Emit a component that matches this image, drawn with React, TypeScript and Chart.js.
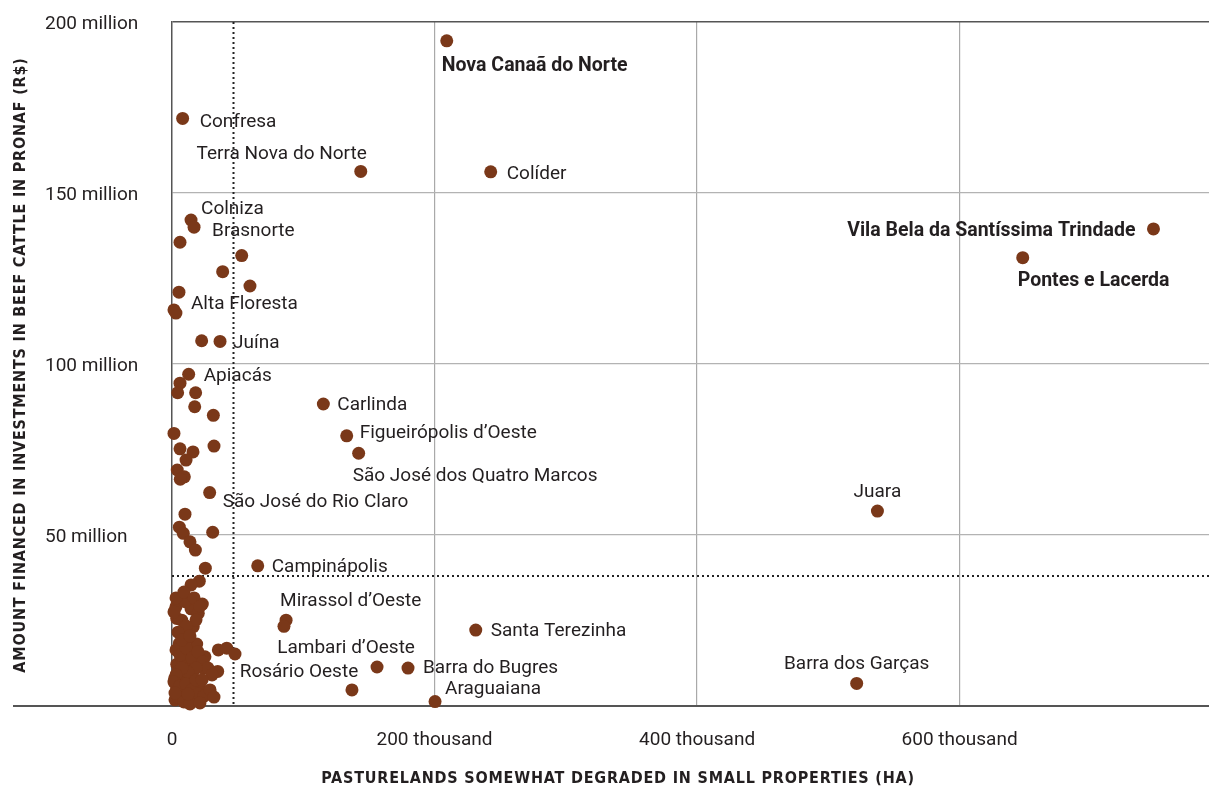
import React, { useEffect, useRef } from "react";
import { Chart, registerables } from "chart.js";

Chart.register(...registerables);

// ---- Data ----
const labeledNames: string[] = [
  "Nova Canaã do Norte", "Confresa", "Terra Nova do Norte", "Colíder", "Colniza", "Brasnorte",
  "Vila Bela da Santíssima Trindade", "Pontes e Lacerda", "Alta Floresta", "Juína", "Apiacás",
  "Carlinda", "Figueirópolis d’Oeste", "São José dos Quatro Marcos", "São José do Rio Claro",
  "Campinápolis", "Mirassol d’Oeste", "Santa Terezinha", "Lambari d’Oeste", "Rosário Oeste",
  "Barra do Bugres", "Araguaiana", "Juara", "Barra dos Garças",
];

const pastureHa: number[] = [
  209300, 8100, 143800, 242800, 14500, 16800,
  747700, 648100, 5300, 36600, 12700,
  115300, 133100, 142200, 28700,
  65300, 86900, 231400, 156200, 34800,
  179800, 200400, 537400, 521600,
  // unlabeled municipalities
  85300, 137100, 6100, 53100, 38600, 59400, 1500, 3000, 22600,
  6100, 4300, 18000, 17300, 31500, 1500, 6100, 16000, 32000, 10700, 4000, 9400, 6300,
  9900, 5600, 8600, 31000, 13700, 17800, 25400, 20800, 14500, 8600, 3000, 23100, 14500,
  20000, 7400, 16200, 3600, 6100, 5600, 18800, 35300, 41700, 48000, 12400, 25100, 3600,
  21300, 11200, 6100, 15000, 21300, 28400, 3600, 2300, 9900, 16200, 7400,
  10000, 12000, 7000, 4500, 2000, 11500, 13500, 19000, 8000, 24000,
  3050, 6100, 10700, 15200, 19800, 23600, 27400, 30500, 18300, 12200, 7600, 3050, 1500, 6100,
  10700, 15200, 19800, 24400, 29000, 32000, 4600, 9100, 13700, 21300, 2300, 18300, 12200, 22900,
  3050, 9100, 16800, 21300, 18300, 10700, 4600, 1500, 7600, 13700,
];

const financedBRL: number[] = [
  194.5e6, 171.8e6, 156.3e6, 156.2e6, 142.1e6, 140.0e6,
  139.5e6, 131.1e6, 121.0e6, 106.6e6, 97.0e6,
  88.3e6, 79.0e6, 73.9e6, 62.4e6,
  41.0e6, 25.1e6, 22.2e6, 11.4e6, 10.1e6,
  11.1e6, 1.3e6, 57.0e6, 6.6e6,
  // unlabeled municipalities
  23.3e6, 4.7e6, 135.6e6, 131.7e6, 127.0e6, 122.8e6, 115.8e6, 114.9e6, 106.8e6,
  94.4e6, 91.6e6, 91.6e6, 87.5e6, 85.0e6, 79.7e6, 75.2e6, 74.3e6, 76.0e6, 71.9e6, 69.0e6, 67.0e6, 66.3e6,
  56.1e6, 52.3e6, 50.5e6, 50.8e6, 48.0e6, 45.6e6, 40.3e6, 36.5e6, 35.4e6, 32.0e6, 29.0e6, 29.8e6, 28.4e6,
  27.1e6, 25.1e6, 23.2e6, 25.6e6, 21.2e6, 18.3e6, 18.1e6, 16.4e6, 16.9e6, 15.2e6, 15.9e6, 14.4e6, 12.2e6,
  13.5e6, 12.5e6, 8.6e6, 7.1e6, 5.2e6, 4.0e6, 5.2e6, 1.8e6, 1.8e6, 2.3e6, 3.7e6,
  30.5e6, 20.0e6, 14.0e6, 10.0e6, 8.0e6, 4.5e6, 9.5e6, 6.0e6, 2.8e6, 11.0e6,
  16.4e6, 14.9e6, 17.0e6, 14.0e6, 15.8e6, 12.9e6, 11.1e6, 9.1e6, 11.1e6, 9.9e6, 11.1e6, 9.1e6, 7.0e6, 5.9e6,
  6.4e6, 4.7e6, 3.5e6, 2.9e6, 4.7e6, 2.6e6, 2.6e6, 1.2e6, 0.6e6, 0.9e6, 3.8e6, 7.6e6, 3.5e6, 7.6e6,
  31.6e6, 33.3e6, 31.6e6, 29.2e6, 25.2e6, 23.4e6, 21.6e6, 27.5e6, 19.3e6, 20.5e6,
];

const xTickValues: number[] = [0, 200000, 400000, 600000];
const xTickLabels: string[] = ["0", "200 thousand", "400 thousand", "600 thousand"];
const yTickValues: number[] = [0, 50000000, 100000000, 150000000, 200000000];
const yTickLabels: string[] = ["", "50 million", "100 million", "150 million", "200 million"];

const xMax = 790000;
const yMax = 200000000;
const xThreshold = 46100;      // dotted vertical reference
const yThreshold = 38.0e6;     // dotted horizontal reference

const xTitle = "PASTURELANDS SOMEWHAT DEGRADED IN SMALL PROPERTIES (HA)";
const yTitle = "AMOUNT FINANCED IN INVESTMENTS IN BEEF CATTLE IN PRONAF (R$)";

// label placement (pixel offsets from the point), kept separate from data
const boldLabels = ["Nova Canaã do Norte", "Vila Bela da Santíssima Trindade", "Pontes e Lacerda"];
const labelPlacement: Record<string, [number, number, CanvasTextAlign]> = {
  "Nova Canaã do Norte": [-5, 24, "left"],
  "Confresa": [17, 2, "left"],
  "Terra Nova do Norte": [6, -19, "right"],
  "Colíder": [16, 1, "left"],
  "Colniza": [10, -12, "left"],
  "Brasnorte": [18, 3, "left"],
  "Vila Bela da Santíssima Trindade": [-18, 1, "right"],
  "Pontes e Lacerda": [-5, 22, "left"],
  "Alta Floresta": [12, 11, "left"],
  "Juína": [13, 0, "left"],
  "Apiacás": [15, 0, "left"],
  "Carlinda": [14, 0, "left"],
  "Figueirópolis d’Oeste": [13, -4, "left"],
  "São José dos Quatro Marcos": [-6, 21, "left"],
  "São José do Rio Claro": [13, 8, "left"],
  "Campinápolis": [14, 0, "left"],
  "Mirassol d’Oeste": [-6, -20, "left"],
  "Santa Terezinha": [15, 0, "left"],
  "Lambari d’Oeste": [-31, -20, "center"],
  "Rosário Oeste": [22, -1, "left"],
  "Barra do Bugres": [15, -1, "left"],
  "Araguaiana": [10, -14, "left"],
  "Juara": [0, -20, "center"],
  "Barra dos Garças": [0, -21, "center"],
};

const FONT = "Roboto, 'Open Sans', sans-serif";
const TEXT = "#231f20";
const DOT = "#7a3819";

const refLinesPlugin = {
  id: "refLines",
  beforeDatasetsDraw(chart: any) {
    const { ctx, chartArea, scales } = chart;
    const xs = scales.x, ys = scales.y;
    ctx.save();
    // bottom axis line, extended to the left
    ctx.strokeStyle = "#555";
    ctx.lineWidth = 2;
    ctx.beginPath();
    const y0 = ys.getPixelForValue(0);
    ctx.moveTo(13, y0);
    ctx.lineTo(chartArea.right, y0);
    ctx.stroke();
    // dotted reference lines
    ctx.strokeStyle = "#222";
    ctx.lineWidth = 2;
    ctx.setLineDash([2, 3]);
    const xv = Math.round(xs.getPixelForValue(xThreshold)) + 0.5;
    ctx.beginPath();
    ctx.moveTo(xv, chartArea.top);
    ctx.lineTo(xv, chartArea.bottom);
    ctx.stroke();
    const yh = Math.round(ys.getPixelForValue(yThreshold));
    ctx.beginPath();
    ctx.moveTo(chartArea.left, yh);
    ctx.lineTo(chartArea.right, yh);
    ctx.stroke();
    ctx.restore();
  },
};

const labelsPlugin = {
  id: "pointLabels",
  afterDatasetsDraw(chart: any) {
    const { ctx, scales } = chart;
    ctx.save();
    ctx.fillStyle = TEXT;
    ctx.textBaseline = "middle";
    labeledNames.forEach((name, i) => {
      const p = labelPlacement[name];
      if (!p) return;
      const px = scales.x.getPixelForValue(pastureHa[i]);
      const py = scales.y.getPixelForValue(financedBRL[i]);
      const bold = boldLabels.includes(name);
      ctx.font = bold ? `bold 19.5px ${FONT}` : `19px ${FONT}`;
      ctx.textAlign = p[2];
      ctx.fillText(name, px + p[0], py + p[1] + 1.5);
    });
    ctx.restore();
  },
};

const titlesPlugin = {
  id: "axisTitles",
  afterDraw(chart: any) {
    const { ctx } = chart;
    ctx.save();
    ctx.fillStyle = TEXT;
    ctx.font = "bold 16px 'DejaVu Sans Condensed', sans-serif";
    (ctx as any).letterSpacing = "0.8px";
    ctx.textAlign = "center";
    ctx.textBaseline = "middle";
    ctx.fillText(xTitle, 618, 779);
    ctx.translate(21, 365);
    ctx.rotate(-Math.PI / 2);
    ctx.fillText(yTitle, 0, 0);
    ctx.restore();
  },
};

export default function App() {
  const ref = useRef<HTMLCanvasElement | null>(null);

  useEffect(() => {
    document.body.style.margin = "0";
    const canvas = ref.current;
    if (!canvas) return;
    const points = pastureHa.map((x, i) => ({ x, y: financedBRL[i] }));
    const chart = new Chart(canvas, {
      type: "scatter",
      data: {
        datasets: [
          {
            data: points,
            backgroundColor: DOT,
            borderWidth: 0,
            pointRadius: 6.5,
            pointHoverRadius: 6.5,
            clip: false,
          },
        ],
      },
      options: {
        animation: false,
        responsive: false,
        maintainAspectRatio: false,
        events: [],
        layout: { autoPadding: false, padding: { left: 45, top: 22, right: 0, bottom: 0 } },
        plugins: { legend: { display: false }, tooltip: { enabled: false }, title: { display: false } },
        scales: {
          x: {
            type: "linear",
            min: 0,
            max: xMax,
            bounds: "data",
            afterBuildTicks: (s: any) => { s.ticks = xTickValues.map((v) => ({ value: v })); },
            afterFit: (s: any) => { s.height = 82; },
            ticks: {
              autoSkip: false,
              padding: 23,
              color: TEXT,
              font: { family: FONT, size: 19 },
              maxRotation: 0,
              callback: (v: any) => {
                const i = xTickValues.indexOf(v as number);
                return i >= 0 ? xTickLabels[i] : "";
              },
            },
            grid: {
              drawTicks: false,
              lineWidth: 1.2,
              color: (c: any) => (c.tick && c.tick.value === 0 ? "rgba(0,0,0,0)" : "#a9a9a9"),
            },
            border: { display: false },
          },
          y: {
            type: "linear",
            min: 0,
            max: yMax,
            bounds: "data",
            afterBuildTicks: (s: any) => { s.ticks = yTickValues.map((v) => ({ value: v })); },
            afterFit: (s: any) => { s.width = 127; },
            ticks: {
              autoSkip: false,
              crossAlign: "far",
              padding: 0,
              labelOffset: 2,
              color: TEXT,
              font: { family: FONT, size: 19 },
              callback: (v: any) => {
                const i = yTickValues.indexOf(v as number);
                return i >= 0 ? yTickLabels[i] : "";
              },
            },
            grid: {
              drawTicks: false,
              lineWidth: (c: any) => (c.tick && c.tick.value === yMax ? 1.5 : 1.2),
              color: (c: any) =>
                c.tick && c.tick.value === 0
                  ? "rgba(0,0,0,0)"
                  : c.tick && c.tick.value === yMax
                  ? "#555"
                  : "#b3b3b3",
            },
            border: { display: true, color: "#555", width: 1.5 },
          },
        },
      },
      plugins: [refLinesPlugin, labelsPlugin, titlesPlugin],
    });
    return () => chart.destroy();
  }, []);

  return (
    <div style={{ width: 1209, height: 788, position: "relative" }}>
      <canvas ref={ref} width={1209} height={788} style={{ display: "block", width: 1209, height: 788 }} />
    </div>
  );
}
